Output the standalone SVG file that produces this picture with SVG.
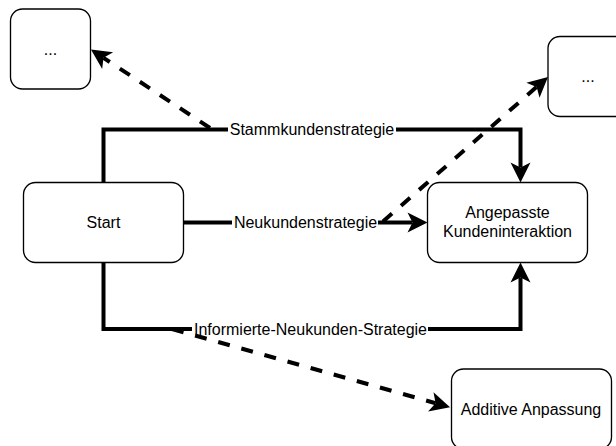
<svg xmlns="http://www.w3.org/2000/svg" width="616" height="446" viewBox="0 0 616 446">
  <style>
    .node rect { fill: #ffffff; stroke: #000000; stroke-width: 1.33; }
    .node text, .label text { font-family: "Liberation Sans", Arial, Helvetica, sans-serif; font-size: 16px; fill: #000000; text-anchor: middle; }
    .edge { fill: none; stroke: #000000; stroke-width: 4; stroke-linejoin: miter; }
    .dashed { stroke-dasharray: 12 12; }
    .label rect { fill: #ffffff; stroke: none; }
  </style>
  <defs>
    <!-- block arrowhead; the line ends at the notch, the tip sits 15px further on -->
    <marker id="arrow" markerUnits="userSpaceOnUse" viewBox="-6 -11 22 22" refX="0" refY="0" markerWidth="22" markerHeight="22" orient="auto" overflow="visible">
      <path d="M15,0 L-5,-10 L0,0 L-5,10 Z" fill="#000000" stroke="none"/>
    </marker>
  </defs>

  <!-- nodes -->
  <g id="node-more-left" class="node">
    <rect x="10.5" y="9" width="80" height="80" rx="12" ry="12"/>
    <text x="50.5" y="54.5">...</text>
  </g>
  <g id="node-more-right" class="node">
    <rect x="548" y="36.5" width="80" height="80" rx="12" ry="12"/>
    <text x="588" y="82">...</text>
  </g>
  <g id="node-start" class="node">
    <rect x="23.5" y="182.5" width="160" height="80" rx="12" ry="12"/>
    <text x="103.5" y="228">Start</text>
  </g>
  <g id="node-angepasste" class="node">
    <rect x="427.5" y="182.5" width="160" height="80" rx="12" ry="12"/>
    <text x="507.5" y="217.5">Angepasste</text>
    <text x="507.5" y="236.5">Kundeninteraktion</text>
  </g>
  <g id="node-additive" class="node">
    <rect x="451.5" y="369" width="160" height="80" rx="12" ry="12"/>
    <text x="531" y="414.5">Additive Anpassung</text>
  </g>

  <!-- connectors -->
  <g id="connectors">
    <path id="edge-stamm" class="edge" d="M103.5,182.5 V129.5 H520.5 V167.5" marker-end="url(#arrow)"/>
    <path id="edge-neu" class="edge" d="M183.5,222.5 H412.5" marker-end="url(#arrow)"/>
    <path id="edge-informiert" class="edge" d="M103.5,262.5 V329 H520.5 V277.5" marker-end="url(#arrow)"/>

    <g class="label">
      <rect x="228" y="120" width="168" height="19"/>
      <text x="312" y="135">Stammkundenstrategie</text>
      <rect x="232" y="213" width="146" height="19"/>
      <text x="305.5" y="228">Neukundenstrategie</text>
      <rect x="192" y="320" width="236" height="17"/>
      <text x="310.5" y="334.5">Informierte-Neukunden-Strategie</text>
    </g>

    <path id="edge-dash-left" class="edge dashed" d="M210,128 L103.5,57.8" marker-end="url(#arrow)"/>
    <path id="edge-dash-right" class="edge dashed" d="M383,221.5 L536.7,86.9" marker-end="url(#arrow)"/>
    <path id="edge-dash-additive" class="edge dashed" d="M172,329 L435.6,403.2" marker-end="url(#arrow)"/>
  </g>
</svg>
